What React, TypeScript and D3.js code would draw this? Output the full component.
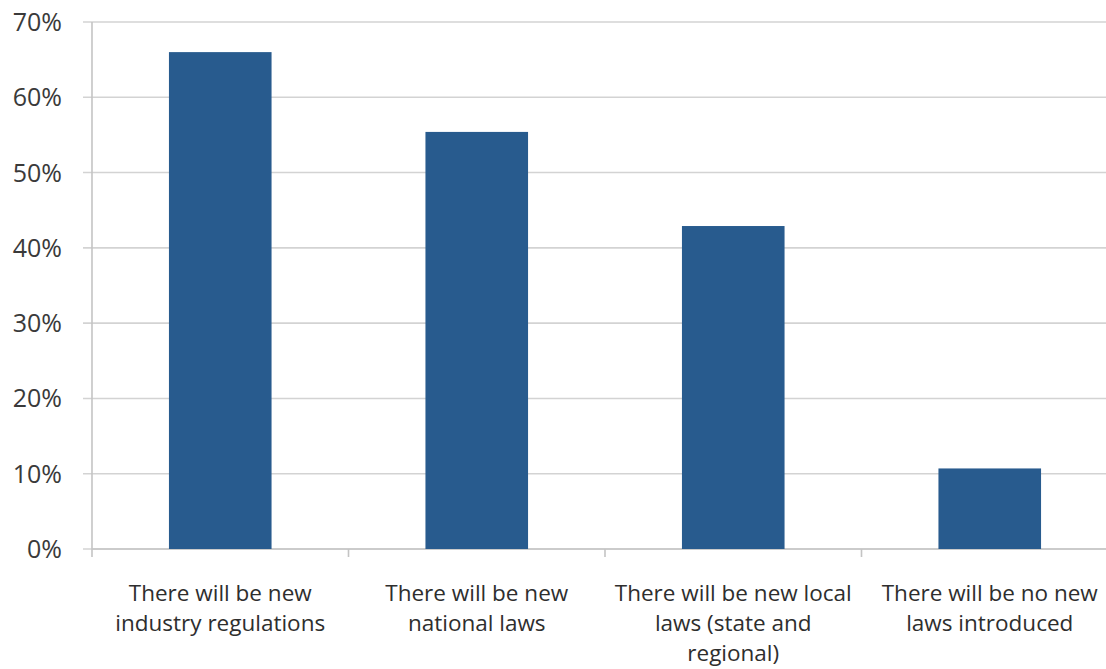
import React from "react";
import * as d3 from "d3";

const categories: string[][] = [
  ["There will be new", "industry regulations"],
  ["There will be new", "national laws"],
  ["There will be new local", "laws (state and", "regional)"],
  ["There will be no new", "laws introduced"],
];
const values: number[] = [0.66, 0.554, 0.429, 0.107];
const yTicks: number[] = [0, 0.1, 0.2, 0.3, 0.4, 0.5, 0.6, 0.7];

const W = 1106;
const H = 669;
const left = 92;
const right = 1118;
const top = 22;
const bottom = 549;

export default function App() {
  const keys = categories.map((c) => c.join(" "));
  const x = d3.scaleBand<string>().domain(keys).range([left, right]).paddingInner(0.6).paddingOuter(0.3);
  const y = d3.scaleLinear().domain([0, 0.7]).range([bottom, top]);
  const step = x.step();
  const fmt = d3.format(".0%");
  const font = "'Open Sans', sans-serif";
  return (
    <svg width={W} height={H} style={{ position: "absolute", left: 0, top: 0, background: "#fff" }}>
      {yTicks.map((t) => (
        <g key={t}>
          <line x1={left - 9} x2={right} y1={y(t)} y2={y(t)} stroke="#d3d3d3" strokeWidth={1.6} />
          <text x={62} y={y(t)} dy="0.36em" textAnchor="end" fontFamily={font} fontSize={25} fill="#3a3a3a">
            {fmt(t)}
          </text>
        </g>
      ))}
      <line x1={left} x2={left} y1={top} y2={bottom} stroke="#c4c4c4" strokeWidth={1.6} />
      <line x1={left} x2={right} y1={bottom} y2={bottom} stroke="#c4c4c4" strokeWidth={1.6} />
      {keys.map((k, i) => (
        <line key={"t" + i} x1={left + i * step} x2={left + i * step} y1={bottom} y2={bottom + 8} stroke="#c4c4c4" strokeWidth={1.6} />
      ))}
      {keys.map((k, i) => (
        <rect key={k} x={x(k)} y={y(values[i])} width={x.bandwidth()} height={bottom - y(values[i])} fill="#285b8e" />
      ))}
      {categories.map((lines, i) => {
        const cx = (x(keys[i]) as number) + x.bandwidth() / 2;
        return (
          <text key={"l" + i} textAnchor="middle" fontFamily={font} fontSize={22.5} fill="#2e2e2e">
            {lines.map((ln, j) => (
              <tspan key={j} x={cx} y={601 + j * 30}>
                {ln}
              </tspan>
            ))}
          </text>
        );
      })}
    </svg>
  );
}
